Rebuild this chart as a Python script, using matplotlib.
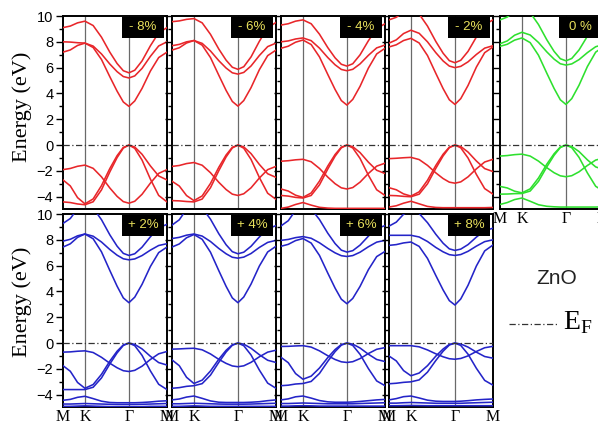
import matplotlib
matplotlib.use("Agg")
import matplotlib.pyplot as plt
from matplotlib.patches import Rectangle
from matplotlib.ticker import MultipleLocator

# k-path M - K - Gamma - M (fraction of path length)
kpath = [0.0, 0.07, 0.14, 0.211, 0.29, 0.37, 0.45, 0.52, 0.58, 0.634, 0.69, 0.76, 0.84, 0.92, 1.0]
k_ticks = [0.0, 0.211, 0.634, 1.0]
k_labels = ['M', 'K', 'Γ', 'M']

# band energies (eV), compressive strain (top row)
bands_m8 = [
    [7.2, 7.37, 7.72, 7.9, 7.56, 6.63, 5.30, 4.18, 3.34, 3.0, 3.42, 4.39, 5.73, 6.78, 7.2],
    [8.0, 7.98, 7.93, 7.9, 7.67, 7.06, 6.28, 5.69, 5.31, 5.2, 5.36, 5.94, 6.87, 7.68, 8.0],
    [9.1, 9.22, 9.47, 9.6, 9.26, 8.36, 7.2, 6.32, 5.76, 5.6, 5.8, 6.52, 7.69, 8.7, 9.1],
    [-1.9, -1.81, -1.64, -1.55, -1.80, -2.46, -3.32, -3.97, -4.38, -4.5, -4.35, -3.81, -2.95, -2.19, -1.9],
    [-2.7, -3.16, -4.07, -4.55, -4.17, -3.14, -1.82, -0.82, -0.18, 0.0, -0.15, -0.71, -1.61, -2.39, -2.7],
    [-4.4, -4.45, -4.56, -4.62, -4.39, -3.47, -2.08, -0.97, -0.23, 0.0, -0.25, -1.16, -2.63, -3.9, -4.4],
]
bands_m6 = [
    [7.36, 7.54, 7.91, 8.1, 7.74, 6.78, 5.41, 4.24, 3.38, 3.02, 3.45, 4.45, 5.84, 6.93, 7.36],
    [7.7, 7.8, 8.0, 8.1, 7.88, 7.29, 6.54, 5.97, 5.6, 5.5, 5.63, 6.13, 6.94, 7.63, 7.9],
    [9.56, 9.62, 9.74, 9.8, 9.47, 8.58, 7.44, 6.58, 6.03, 5.87, 6.07, 6.83, 8.04, 9.09, 9.5],
    [-1.65, -1.58, -1.43, -1.35, -1.56, -2.14, -2.88, -3.44, -3.8, -3.9, -3.77, -3.31, -2.55, -1.9, -1.65],
    [-2.8, -3.17, -3.91, -4.3, -3.94, -2.97, -1.72, -0.77, -0.17, 0.0, -0.14, -0.66, -1.5, -2.22, -2.5],
    [-4.3, -4.32, -4.37, -4.4, -4.18, -3.3, -1.98, -0.92, -0.22, 0.0, -0.24, -1.11, -2.51, -3.73, -4.2],
]
bands_m4 = [
    [7.5, 7.66, 7.97, 8.14, 7.79, 6.83, 5.47, 4.31, 3.45, 3.1, 3.54, 4.55, 5.96, 7.06, 7.5],
    [8.0, 8.07, 8.22, 8.3, 8.09, 7.51, 6.78, 6.22, 5.86, 5.76, 5.87, 6.29, 6.95, 7.53, 7.75],
    [9.3, 9.4, 9.6, 9.7, 9.4, 8.59, 7.55, 6.76, 6.26, 6.12, 6.3, 6.99, 8.08, 9.03, 9.4],
    [-1.25, -1.21, -1.14, -1.1, -1.29, -1.81, -2.48, -2.99, -3.31, -3.4, -3.29, -2.87, -2.2, -1.63, -1.4],
    [-3.4, -3.56, -3.88, -4.05, -3.71, -2.79, -1.62, -0.73, -0.16, 0.0, -0.12, -0.58, -1.32, -1.95, -2.2],
    [-3.9, -3.95, -4.05, -4.1, -3.9, -3.08, -1.85, -0.86, -0.21, 0.0, -0.22, -1.03, -2.33, -3.46, -3.9],
    [-4.9, -4.8, -4.6, -4.45, -4.65, -4.82, -4.88, -4.9, -4.9, -4.9, -4.9, -4.9, -4.9, -4.9, -4.9],
]
bands_m2 = [
    [7.6, 7.77, 8.1, 8.27, 7.91, 6.94, 5.56, 4.38, 3.51, 3.15, 3.6, 4.62, 6.04, 7.16, 7.6],
    [7.9, 8.15, 8.64, 8.9, 8.66, 8.0, 7.16, 6.52, 6.12, 6.0, 6.1, 6.45, 7.02, 7.51, 7.7],
    [9.7, 9.9, 10.29, 10.5, 10.15, 9.22, 8.03, 7.12, 6.54, 6.38, 6.57, 7.26, 8.37, 9.33, 9.7],
    [-1.05, -1.02, -0.98, -0.95, -1.12, -1.57, -2.15, -2.59, -2.87, -2.95, -2.85, -2.46, -1.84, -1.31, -1.1],
    [-3.3, -3.46, -3.78, -3.95, -3.62, -2.73, -1.58, -0.71, -0.16, 0.0, -0.11, -0.54, -1.23, -1.82, -2.05],
    [-3.9, -3.92, -3.97, -4.0, -3.8, -3.0, -1.8, -0.84, -0.2, 0.0, -0.21, -1.0, -2.27, -3.37, -3.8],
    [-4.8, -4.7, -4.5, -4.35, -4.55, -4.75, -4.83, -4.85, -4.85, -4.85, -4.85, -4.85, -4.85, -4.85, -4.83],
]
bands_0 = [
    [7.65, 7.81, 8.13, 8.3, 7.94, 6.96, 5.57, 4.39, 3.51, 3.15, 3.6, 4.64, 6.08, 7.2, 7.65],
    [7.85, 8.07, 8.51, 8.74, 8.53, 7.95, 7.22, 6.66, 6.3, 6.2, 6.29, 6.62, 7.16, 7.62, 7.8],
    [9.7, 9.92, 10.37, 10.6, 10.26, 9.34, 8.16, 7.26, 6.69, 6.53, 6.71, 7.37, 8.43, 9.34, 9.7],
    [-0.85, -0.81, -0.74, -0.7, -0.85, -1.24, -1.75, -2.14, -2.38, -2.45, -2.37, -2.07, -1.58, -1.16, -1.0],
    [-3.2, -3.32, -3.57, -3.7, -3.39, -2.55, -1.48, -0.67, -0.15, 0.0, -0.11, -0.5, -1.14, -1.69, -1.9],
    [-3.8, -3.79, -3.76, -3.75, -3.56, -2.81, -1.69, -0.79, -0.19, 0.0, -0.2, -0.95, -2.15, -3.19, -3.6],
    [-4.6, -4.45, -4.22, -4.1, -4.35, -4.62, -4.74, -4.78, -4.8, -4.8, -4.8, -4.8, -4.8, -4.8, -4.78],
]
# tensile strain (bottom row)
bands_p2 = [
    [7.44, 7.69, 8.19, 8.45, 8.08, 7.07, 5.63, 4.41, 3.5, 3.13, 3.56, 4.55, 5.93, 7.01, 7.44],
    [7.9, 8.04, 8.31, 8.45, 8.28, 7.83, 7.25, 6.81, 6.53, 6.45, 6.52, 6.78, 7.2, 7.56, 7.7],
    [9.27, 9.65, 10.4, 10.8, 10.46, 9.56, 8.39, 7.51, 6.95, 6.79, 6.92, 7.43, 8.23, 8.93, 9.2],
    [-0.7, -0.68, -0.63, -0.6, -0.73, -1.1, -1.56, -1.91, -2.14, -2.2, -2.11, -1.79, -1.27, -0.83, -0.65],
    [-1.75, -2.18, -3.05, -3.5, -3.21, -2.42, -1.4, -0.63, -0.14, 0.0, -0.1, -0.45, -1.02, -1.51, -1.7],
    [-3.6, -3.6, -3.6, -3.6, -3.42, -2.7, -1.62, -0.76, -0.18, 0.0, -0.2, -0.95, -2.15, -3.19, -3.6],
    [-4.43, -4.36, -4.2, -4.12, -4.3, -4.5, -4.6, -4.62, -4.62, -4.62, -4.62, -4.6, -4.56, -4.5, -4.47],
    [-4.72, -4.72, -4.7, -4.68, -4.7, -4.72, -4.74, -4.75, -4.75, -4.75, -4.75, -4.74, -4.72, -4.7, -4.68],
    [-4.9, -4.9, -4.88, -4.86, -4.88, -4.9, -4.92, -4.92, -4.92, -4.92, -4.92, -4.92, -4.9, -4.9, -4.9],
]
bands_p4 = [
    [7.44, 7.68, 8.16, 8.41, 8.04, 7.04, 5.61, 4.4, 3.5, 3.13, 3.57, 4.57, 5.97, 7.06, 7.5],
    [8.1, 8.19, 8.36, 8.45, 8.29, 7.87, 7.33, 6.92, 6.65, 6.58, 6.66, 6.94, 7.41, 7.8, 7.96],
    [9.14, 9.55, 10.37, 10.8, 10.47, 9.6, 8.47, 7.62, 7.08, 6.92, 7.04, 7.5, 8.22, 8.85, 9.1],
    [-0.47, -0.45, -0.42, -0.4, -0.52, -0.84, -1.26, -1.57, -1.77, -1.83, -1.76, -1.49, -1.06, -0.7, -0.55],
    [-1.3, -1.75, -2.65, -3.13, -2.87, -2.16, -1.25, -0.56, -0.13, 0.0, -0.08, -0.4, -0.9, -1.33, -1.5],
    [-3.5, -3.45, -3.35, -3.3, -3.14, -2.48, -1.49, -0.69, -0.17, 0.0, -0.2, -0.92, -2.09, -3.1, -3.5],
    [-4.4, -4.33, -4.18, -4.1, -4.28, -4.48, -4.58, -4.6, -4.6, -4.6, -4.6, -4.58, -4.54, -4.46, -4.4],
    [-4.7, -4.7, -4.68, -4.66, -4.68, -4.7, -4.72, -4.73, -4.73, -4.73, -4.73, -4.72, -4.7, -4.68, -4.66],
    [-4.9, -4.9, -4.88, -4.86, -4.88, -4.9, -4.9, -4.9, -4.9, -4.9, -4.9, -4.9, -4.9, -4.9, -4.9],
]
bands_p6 = [
    [7.5, 7.65, 7.94, 8.1, 7.75, 6.79, 5.42, 4.26, 3.4, 3.05, 3.46, 4.39, 5.68, 6.7, 7.1],
    [7.96, 8.03, 8.17, 8.25, 8.12, 7.77, 7.33, 6.99, 6.77, 6.71, 6.78, 7.04, 7.46, 7.82, 7.96],
    [9.08, 9.48, 10.28, 10.7, 10.39, 9.57, 8.51, 7.71, 7.2, 7.05, 7.16, 7.59, 8.28, 8.87, 9.1],
    [-0.26, -0.25, -0.22, -0.2, -0.31, -0.6, -0.98, -1.27, -1.45, -1.5, -1.44, -1.2, -0.81, -0.48, -0.35],
    [-1.1, -1.52, -2.36, -2.8, -2.56, -1.93, -1.12, -0.5, -0.11, 0.0, -0.08, -0.38, -0.86, -1.27, -1.43],
    [-3.3, -3.26, -3.17, -3.13, -2.97, -2.35, -1.41, -0.66, -0.16, 0.0, -0.18, -0.87, -1.97, -2.93, -3.3],
    [-4.4, -4.32, -4.16, -4.1, -4.26, -4.45, -4.55, -4.58, -4.58, -4.58, -4.56, -4.52, -4.46, -4.4, -4.36],
    [-4.68, -4.68, -4.66, -4.64, -4.66, -4.68, -4.7, -4.7, -4.7, -4.7, -4.7, -4.68, -4.66, -4.64, -4.62],
    [-4.88, -4.88, -4.86, -4.85, -4.86, -4.88, -4.88, -4.88, -4.88, -4.88, -4.88, -4.88, -4.88, -4.88, -4.88],
]
bands_p8 = [
    [7.57, 7.63, 7.76, 7.83, 7.49, 6.56, 5.24, 4.12, 3.29, 2.95, 3.42, 4.48, 5.97, 7.14, 7.6],
    [8.35, 8.35, 8.35, 8.35, 8.22, 7.87, 7.41, 7.07, 6.85, 6.79, 6.86, 7.11, 7.51, 7.86, 8.0],
    [9.06, 9.37, 9.98, 10.3, 10.04, 9.33, 8.43, 7.74, 7.3, 7.18, 7.28, 7.63, 8.21, 8.71, 8.9],
    [-0.2, -0.2, -0.2, -0.2, -0.29, -0.53, -0.83, -1.06, -1.21, -1.25, -1.19, -0.99, -0.65, -0.36, -0.25],
    [-1.0, -1.38, -2.13, -2.53, -2.32, -1.75, -1.01, -0.46, -0.1, 0.0, -0.07, -0.31, -0.7, -1.04, -1.17],
    [-3.15, -3.11, -3.04, -3.0, -2.85, -2.25, -1.35, -0.63, -0.15, 0.0, -0.18, -0.86, -1.95, -2.89, -3.26],
    [-4.4, -4.3, -4.15, -4.1, -4.25, -4.42, -4.5, -4.52, -4.52, -4.52, -4.5, -4.46, -4.4, -4.36, -4.33],
    [-4.65, -4.65, -4.62, -4.6, -4.62, -4.64, -4.66, -4.66, -4.66, -4.66, -4.66, -4.64, -4.62, -4.6, -4.58],
    [-4.85, -4.85, -4.84, -4.83, -4.84, -4.85, -4.85, -4.85, -4.85, -4.85, -4.85, -4.85, -4.85, -4.85, -4.85],
]

top_labels = ['- 8%', '- 6%', '- 4%', '- 2%', '0 %']
bottom_labels = ['+ 2%', '+ 4%', '+ 6%', '+ 8%']

W, H = 598, 425
RED, GREEN, BLUE = '#e8262a', '#2ee02e', '#2424c8'
SANS = ['Liberation Sans', 'DejaVu Sans']
SERIF = ['Liberation Serif', 'DejaVu Serif']


def add_panel(fig, left, top, bands, color, label, ylabels=True, xlabels=False):
    ax = fig.add_axes([left / W, 1 - (top + 193) / H, 104 / W, 193 / H])
    for b in bands:
        ax.plot(kpath, b, color=color, lw=1.15, zorder=3)
    for k in k_ticks[1:3]:
        ax.axvline(k, color='#6a6a6a', lw=0.9, zorder=2)
    ax.axhline(0, color='#333333', lw=0.9, ls=(0, (5, 2, 1, 2)), zorder=4)
    ax.set_xlim(0, 1)
    ax.set_ylim(-4.95, 10)
    ax.yaxis.set_major_locator(MultipleLocator(2))
    ax.yaxis.set_minor_locator(MultipleLocator(1))
    ax.tick_params(axis='y', which='both', direction='out', left=True, right=False, width=1)
    ax.tick_params(axis='y', which='major', length=5, labelsize=10.5, pad=2)
    ax.tick_params(axis='y', which='minor', length=3)
    for t in ax.get_yticklabels():
        t.set_fontfamily(SANS)
    if not ylabels:
        ax.set_yticklabels([])
    ax.set_xticks(k_ticks)
    ax.tick_params(axis='x', length=0, pad=1.5)
    if xlabels:
        ax.set_xticklabels(k_labels, fontsize=11.5, family=SERIF)
    else:
        ax.set_xticklabels([])
    for s in ax.spines.values():
        s.set_linewidth(1.4)
    # label box, top right
    ax.add_patch(Rectangle((1 - 45 / 104, 1 - 22 / 193), 42 / 104, 21 / 193,
                           transform=ax.transAxes, fc='black', ec='none', zorder=6))
    ax.text(1 - 24 / 104, 1 - 11.5 / 193, label, transform=ax.transAxes,
            ha='center', va='center', color='#e8e05c', fontsize=9.5,
            family=SANS, zorder=7)
    return ax


fig = plt.figure(figsize=(W / 100, H / 100), dpi=100)

lefts = [63, 172, 281, 389, 500]
top_bands = [bands_m8, bands_m6, bands_m4, bands_m2]
for i in range(4):
    add_panel(fig, lefts[i], 16, top_bands[i], RED, top_labels[i], ylabels=(i == 0))
add_panel(fig, lefts[4], 16, bands_0, GREEN, top_labels[4], ylabels=False, xlabels=True)

bottom_bands = [bands_p2, bands_p4, bands_p6, bands_p8]
for i in range(4):
    add_panel(fig, lefts[i], 214, bottom_bands[i], BLUE, bottom_labels[i],
              ylabels=(i == 0), xlabels=True)

fig.text(22 / W, 1 - 107 / H, 'Energy (eV)', rotation=90, ha='center', va='center',
         fontsize=16, family=SERIF)
fig.text(22 / W, 1 - 302 / H, 'Energy (eV)', rotation=90, ha='center', va='center',
         fontsize=16, family=SERIF)

# legend area
fig.text(557 / W, 1 - 279 / H, 'ZnO', ha='center', va='center', fontsize=15,
         family=SANS, color='#222222')
fig.add_artist(plt.Line2D([509 / W, 558 / W], [1 - 324 / H, 1 - 324 / H],
                          color='#333333', lw=0.9, ls=(0, (5, 2, 1, 2))))
fig.text(563 / W, 1 - 323 / H, r'E$_\mathregular{F}$', ha='left', va='center',
         fontsize=20, family=SERIF)

fig.savefig('out.png', dpi=100)
